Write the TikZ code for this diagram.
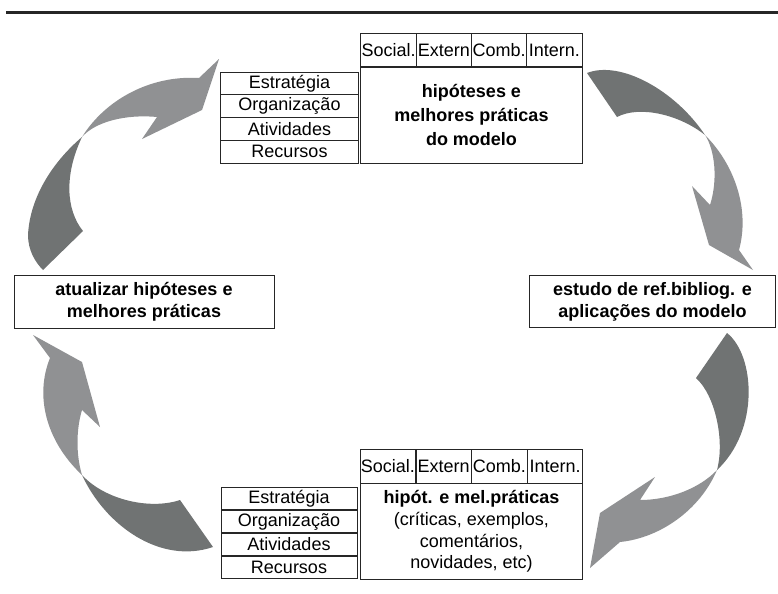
\documentclass[tikz,border=0pt]{standalone}
\usepackage{fontspec}
\setmainfont{Liberation Sans}
\usepackage{xcolor}
\usepackage{tikz}
\usetikzlibrary{positioning}

\definecolor{ribbondark}{RGB}{112,115,115}
\definecolor{ribbonlight}{RGB}{144,145,147}

\begin{document}
\begin{tikzpicture}[
  x=0.75pt,
  y=-0.75pt,
  font=\fontsize{13.5}{16}\selectfont,
  frame/.style={draw=black!85, line width=0.65pt, inner sep=0.5pt, align=center},
  cell/.style={frame, minimum width=41.4pt, minimum height=25.5pt},
  item/.style={frame, minimum width=104pt, minimum height=17.1pt},
  mainbox/.style={frame, minimum width=166pt, minimum height=72.5pt},
  sidebox/.style={frame, minimum height=39.5pt, font=\fontsize{13.5}{16.5}\selectfont\bfseries},
  darkpart/.style={fill=ribbondark},
  lightpart/.style={fill=ribbonlight},
  rule/.style={line width=2.3pt, draw=black!85}
]
\useasboundingbox (0,0) rectangle (778,593);

% Rule across the top of the page.
\coordinate (ruleL) at (6,12.5);
\coordinate (ruleR) at (778,12.5);
\draw[rule] (ruleL) -- (ruleR);

% Twisted ribbon arrows: dark half at the tail, light half at the head.
% Top left: from the update box up to the model.
\fill[darkpart] (82,137) .. controls (55,160) and (30,195) .. (28,235)
  .. controls (28,250) and (35,262) .. (43,270) -- (83,231)
  .. controls (66,210) and (64,175) .. (82,137) -- cycle;
\fill[lightpart] (82,137) .. controls (105,100) and (150,75) .. (199,78)
  -- (219,59) -- (202,110) -- (142,139) -- (157,117)
  .. controls (125,114) and (95,122) .. (82,137) -- cycle;
% Top right: from the model down to the study box.
\fill[darkpart] (587,73) .. controls (620,60) and (675,90) .. (705,135)
  .. controls (680,115) and (640,105) .. (617,117) -- cycle;
\fill[lightpart] (705,135) .. controls (735,165) and (750,210) .. (739,250)
  -- (753,270) -- (709,245) -- (692,186) -- (710,205)
  .. controls (718,180) and (715,150) .. (705,135) -- cycle;
% Bottom right: from the study box down to the practices.
\fill[darkpart] (727,333) .. controls (755,355) and (760,430) .. (717,470)
  .. controls (725,440) and (715,395) .. (696,378) -- cycle;
\fill[lightpart] (717,470) .. controls (700,510) and (660,538) .. (620,542)
  -- (590,568) -- (600,513) -- (655,477) -- (640,500)
  .. controls (670,500) and (700,488) .. (717,470) -- cycle;
% Bottom left: from the practices up to the update box.
\fill[darkpart] (180,500) .. controls (150,510) and (105,500) .. (82,475)
  .. controls (105,525) and (160,565) .. (213,547) -- cycle;
\fill[lightpart] (82,475) .. controls (45,440) and (35,395) .. (50,358)
  -- (33,335) -- (82,362) -- (100,427) -- (82,410)
  .. controls (76,430) and (76,455) .. (82,475) -- cycle;

% Upper table: modes over the model box, perspectives at its left.
\node[cell] (soc1) at (388.6,50) {Social.};
\node[cell] (ext1) at (443.9,50) {Extern};
\node[cell] (comb1) at (499.1,50) {Comb.};
\node[cell] (int1) at (554.4,50) {Intern.};
\node[mainbox, font=\fontsize{13.5}{18}\selectfont\bfseries] (hip1) at (471.5,115)
  {hipóteses e\\melhores práticas\\do modelo};
\node[item] (estr1) at (289.5,83.4) {Estratégia};
\node[item] (org1) at (289.5,106.1) {Organização};
\node[item] (ativ1) at (289.5,128.9) {Atividades};
\node[item] (rec1) at (289.5,151.6) {Recursos};

% Side boxes of the cycle.
\node[sidebox, minimum width=195pt] (atual) at (144,302)
  {atualizar hipóteses e\\melhores práticas};
\node[sidebox, minimum width=185pt] (estudo) at (652.5,301.5)
  {estudo de ref.bibliog. e\\aplicações do modelo};

% Lower table, same layout as the upper one.
\node[cell] (soc2) at (387.9,466) {Social.};
\node[cell] (ext2) at (443.6,466) {Extern};
\node[cell] (comb2) at (499.4,466) {Comb.};
\node[cell] (int2) at (555.1,466) {Intern.};
\node[mainbox, minimum width=167pt, font=\fontsize{13.5}{16.3}\selectfont] (hip2) at (471.5,531.5)
  {\textbf{hipót. e mel.práticas}\\(críticas, exemplos,\\comentários,\\novidades, etc)};
\node[item, minimum width=102pt] (estr2) at (289,498.5) {Estratégia};
\node[item, minimum width=102pt] (org2) at (289,521.5) {Organização};
\node[item, minimum width=102pt] (ativ2) at (289,544.5) {Atividades};
\node[item, minimum width=102pt] (rec2) at (289,567.5) {Recursos};

\end{tikzpicture}
\end{document}
